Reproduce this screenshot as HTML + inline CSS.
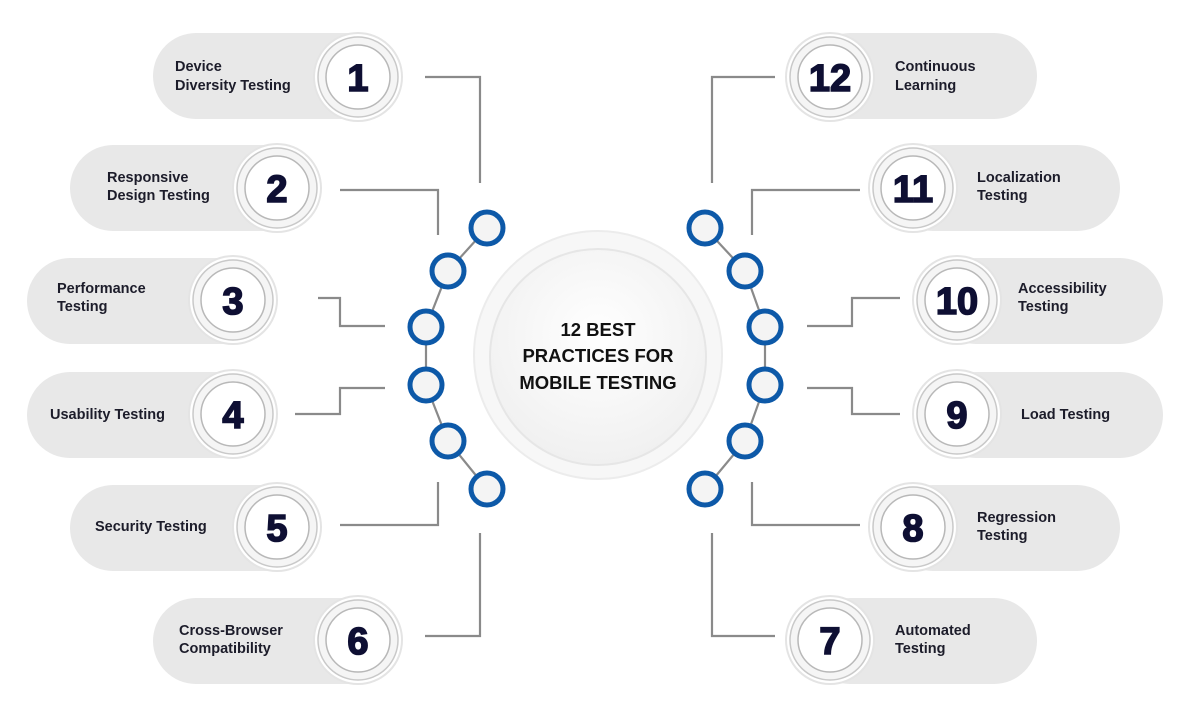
<!DOCTYPE html>
<html><head><meta charset="utf-8"><style>
html,body{margin:0;padding:0;background:#fff;}
svg{display:block}
text{font-family:"Liberation Sans",sans-serif;}
.l{font-size:14.5px;font-weight:bold;fill:#1c1c2a}
.n{font-size:38px;font-weight:bold;fill:#0e0f33;stroke:#0e0f33;stroke-width:1.6;text-anchor:middle}
</style></head><body>
<svg width="1200" height="701" viewBox="0 0 1200 701">
<defs>
<radialGradient id="cg" cx="50%" cy="40%" r="60%"><stop offset="0" stop-color="#ffffff"/><stop offset="1" stop-color="#f0f0f0"/></radialGradient>
<g id="badge">
<circle r="44" fill="#fff" stroke="#e4e4e4" stroke-width="2"/>
<circle r="40" fill="#f5f5f5" stroke="#c9c9c9" stroke-width="1.5"/>
<circle r="32" fill="#fff" stroke="#b8b8b8" stroke-width="1.5"/>
</g>
</defs>
<g fill="#e8e8e8">
<rect x="153" y="33" width="240" height="86" rx="43"/>
<rect x="70" y="145" width="240" height="86" rx="43"/>
<rect x="27" y="258" width="240" height="86" rx="43"/>
<rect x="27" y="372" width="240" height="86" rx="43"/>
<rect x="70" y="485" width="240" height="86" rx="43"/>
<rect x="153" y="598" width="240" height="86" rx="43"/>
<rect x="807" y="33" width="230" height="86" rx="43"/>
<rect x="890" y="145" width="230" height="86" rx="43"/>
<rect x="933" y="258" width="230" height="86" rx="43"/>
<rect x="933" y="372" width="230" height="86" rx="43"/>
<rect x="890" y="485" width="230" height="86" rx="43"/>
<rect x="807" y="598" width="230" height="86" rx="43"/>
</g>
<use href="#badge" x="358" y="77"/><use href="#badge" x="277" y="188"/><use href="#badge" x="233" y="300"/>
<use href="#badge" x="233" y="414"/><use href="#badge" x="277" y="527"/><use href="#badge" x="358" y="640"/>
<use href="#badge" x="830" y="77"/><use href="#badge" x="913" y="188"/><use href="#badge" x="957" y="300"/>
<use href="#badge" x="957" y="414"/><use href="#badge" x="913" y="527"/><use href="#badge" x="830" y="640"/>
<g class="n">
<text x="358" y="91">1</text><text x="277" y="202">2</text><text x="233" y="314">3</text>
<text x="233" y="428">4</text><text x="277" y="541">5</text><text x="358" y="654">6</text>
<text x="830" y="91">12</text><text x="913" y="202">11</text><text x="957" y="314">10</text>
<text x="957" y="428">9</text><text x="913" y="541">8</text><text x="830" y="654">7</text>
</g>
<g class="l">
<text x="175" y="71">Device</text><text x="175" y="90">Diversity Testing</text>
<text x="107" y="182">Responsive</text><text x="107" y="200">Design Testing</text>
<text x="57" y="293">Performance</text><text x="57" y="311">Testing</text>
<text x="50" y="419">Usability Testing</text>
<text x="95" y="531">Security Testing</text>
<text x="179" y="635">Cross-Browser</text><text x="179" y="653">Compatibility</text>
<text x="895" y="71">Continuous</text><text x="895" y="90">Learning</text>
<text x="977" y="182">Localization</text><text x="977" y="200">Testing</text>
<text x="1018" y="293">Accessibility</text><text x="1018" y="311">Testing</text>
<text x="1021" y="419">Load Testing</text>
<text x="977" y="522">Regression</text><text x="977" y="540">Testing</text>
<text x="895" y="635">Automated</text><text x="895" y="653">Testing</text>
</g>
<g fill="none" stroke="#8a8a8a" stroke-width="2.2">
<polyline points="425,77 480,77 480,183"/>
<polyline points="340,190 438,190 438,235"/>
<polyline points="318,298 340,298 340,326 385,326"/>
<polyline points="295,414 340,414 340,388 385,388"/>
<polyline points="340,525 438,525 438,482"/>
<polyline points="425,636 480,636 480,533"/>
<polyline points="775,77 712,77 712,183"/>
<polyline points="860,190 752,190 752,235"/>
<polyline points="900,298 852,298 852,326 807,326"/>
<polyline points="900,414 852,414 852,388 807,388"/>
<polyline points="860,525 752,525 752,482"/>
<polyline points="775,636 712,636 712,533"/>
<polyline points="487,228 448,271 426,327 426,385 448,441 487,489"/>
<polyline points="705,228 745,271 765,327 765,385 745,441 705,489"/>
</g>
<circle cx="598" cy="355" r="124" fill="#f7f7f7" stroke="#ececec" stroke-width="2"/>
<circle cx="598" cy="357" r="108" fill="url(#cg)" stroke="#e6e6e6" stroke-width="2"/>
<g font-size="18.5" font-weight="bold" fill="#111" text-anchor="middle" font-family="Liberation Sans, sans-serif">
<text x="598" y="336">12 BEST</text><text x="598" y="362">PRACTICES FOR</text><text x="598" y="389">MOBILE TESTING</text>
</g>
<g fill="#f4f4f4" stroke="#0d59a8" stroke-width="5">
<circle cx="487" cy="228" r="16"/><circle cx="448" cy="271" r="16"/><circle cx="426" cy="327" r="16"/>
<circle cx="426" cy="385" r="16"/><circle cx="448" cy="441" r="16"/><circle cx="487" cy="489" r="16"/>
<circle cx="705" cy="228" r="16"/><circle cx="745" cy="271" r="16"/><circle cx="765" cy="327" r="16"/>
<circle cx="765" cy="385" r="16"/><circle cx="745" cy="441" r="16"/><circle cx="705" cy="489" r="16"/>
</g>
</svg>
</body></html>
